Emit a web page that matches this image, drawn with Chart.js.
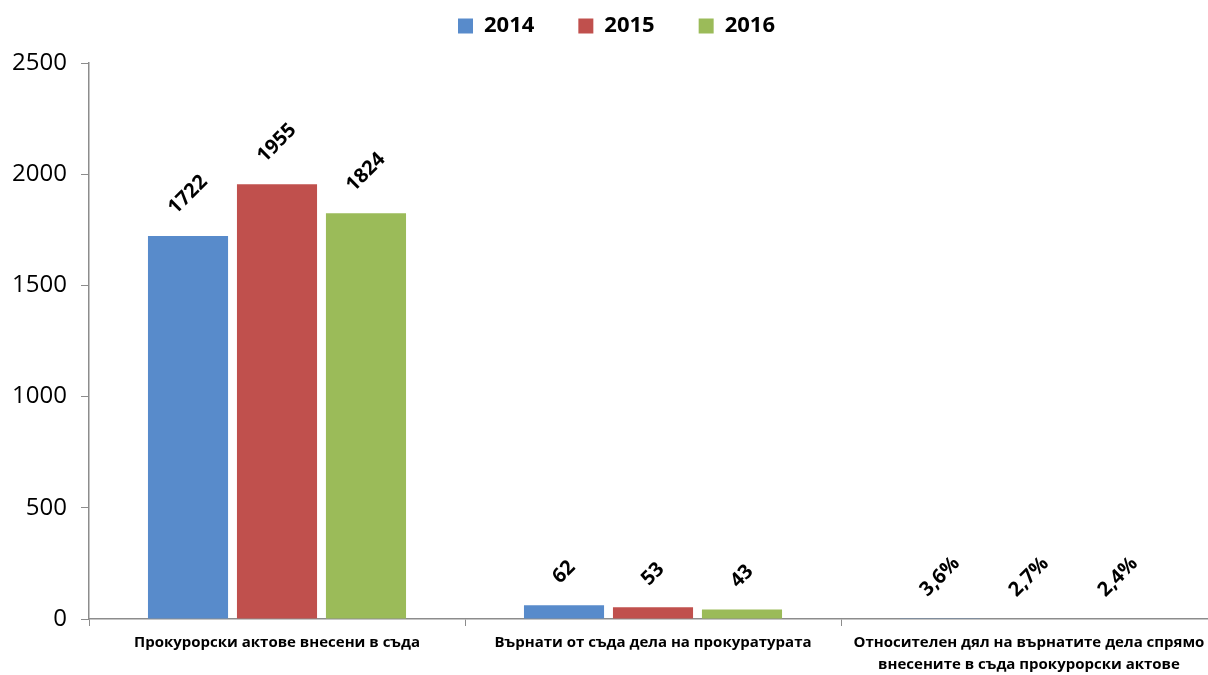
<!DOCTYPE html>
<html>
<head>
<meta charset="utf-8">
<script src="https://cdn.jsdelivr.net/npm/chart.js@4.4.0/dist/chart.umd.min.js"></script>
<style>
  body { margin: 0; background: #fff; overflow: hidden; }
  .wrap { width: 1220px; height: 675px; }
</style>
</head>
<body>
<div class="wrap"><canvas id="chart"></canvas></div>
<script>
// категории и стойности по години
const categories = [
  "Прокурорски актове внесени в съда",
  "Върнати от съда дела на прокуратурата",
  ["Относителен дял на върнатите дела спрямо", "внесените в съда прокурорски актове"]
];
const years = ["2014", "2015", "2016"];
const data2014 = [1722, 62, 3.6];
const data2015 = [1955, 53, 2.7];
const data2016 = [1824, 43, 2.4];
const yTicks = [0, 500, 1000, 1500, 2000, 2500];

const colors = ["#588BCB", "#C0504D", "#9BBB59"];
const axisColor = "#8c8c8c";
const fontFamily = "'Open Sans', 'Liberation Sans', sans-serif";

// надписи над стълбовете, завъртени на -45 градуса
const barLabels = {
  id: "barLabels",
  afterDatasetsDraw(chart) {
    const ctx = chart.ctx;
    ctx.save();
    ctx.font = "bold 20px " + fontFamily;
    ctx.fillStyle = "#000";
    ctx.textAlign = "center";
    ctx.textBaseline = "middle";
    chart.data.datasets.forEach(function (ds, di) {
      const meta = chart.getDatasetMeta(di);
      meta.data.forEach(function (bar, i) {
        const v = ds.data[i];
        const txt = i === 2 ? v.toFixed(1).replace(".", ",") + "%" : String(v);
        const w = ctx.measureText(txt).width;
        const cy = bar.y - 20 - (w + 14) * 0.354;
        ctx.save();
        ctx.translate(bar.x, cy);
        ctx.rotate(-Math.PI / 4);
        ctx.fillText(txt, 0, 0);
        ctx.restore();
      });
    });
    ctx.restore();
  }
};

// легендата: по-висока и леко изместена надясно
const legendTweak = {
  id: "legendTweak",
  beforeLayout(chart) {
    const lg = chart.legend;
    if (lg && !lg._patched) {
      const fit = lg.fit;
      lg.fit = function () {
        fit.call(this);
        this.height += 16;
      };
      lg._patched = true;
    }
  },
  afterLayout(chart) {
    if (chart.legend) {
      chart.legend.left += 8;
      chart.legend.right += 8;
    }
  }
};

new Chart(document.getElementById("chart"), {
  type: "bar",
  data: {
    labels: categories,
    datasets: [
      { label: years[0], data: data2014, backgroundColor: colors[0] },
      { label: years[1], data: data2015, backgroundColor: colors[1] },
      { label: years[2], data: data2016, backgroundColor: colors[2] }
    ]
  },
  options: {
    responsive: true,
    maintainAspectRatio: false,
    animation: false,
    layout: { padding: { top: -29, right: 3 } },
    datasets: {
      bar: { categoryPercentage: 0.71, barPercentage: 0.9 }
    },
    plugins: {
      tooltip: { enabled: false },
      legend: {
        position: "top",
        labels: {
          color: "#000",
          font: { family: fontFamily, size: 22, weight: "bold" },
          boxWidth: 15,
          boxHeight: 15,
          padding: 44
        }
      }
    },
    scales: {
      x: {
        grid: { display: true, drawOnChartArea: false, drawTicks: true, tickLength: 7, color: axisColor },
        border: { color: axisColor, width: 1.5 },
        ticks: {
          color: "#000",
          maxRotation: 0,
          autoSkip: false,
          padding: 6,
          font: { family: fontFamily, size: 15, weight: "bold", lineHeight: 1.45 }
        },
        afterFit: function (scale) { scale.height = 56; }
      },
      y: {
        min: 0,
        max: 2500,
        afterBuildTicks: function (scale) {
          scale.ticks = yTicks.map(function (v) { return { value: v }; });
        },
        grid: { display: true, drawOnChartArea: false, drawTicks: true, tickLength: 8, color: axisColor },
        border: { color: axisColor, width: 1.5 },
        ticks: {
          color: "#000",
          padding: 14,
          font: { family: fontFamily, size: 24 },
          callback: function (v) { return String(v); }
        },
        afterFit: function (scale) { scale.width = 89; }
      }
    }
  },
  plugins: [barLabels, legendTweak]
});
</script>
</body>
</html>
